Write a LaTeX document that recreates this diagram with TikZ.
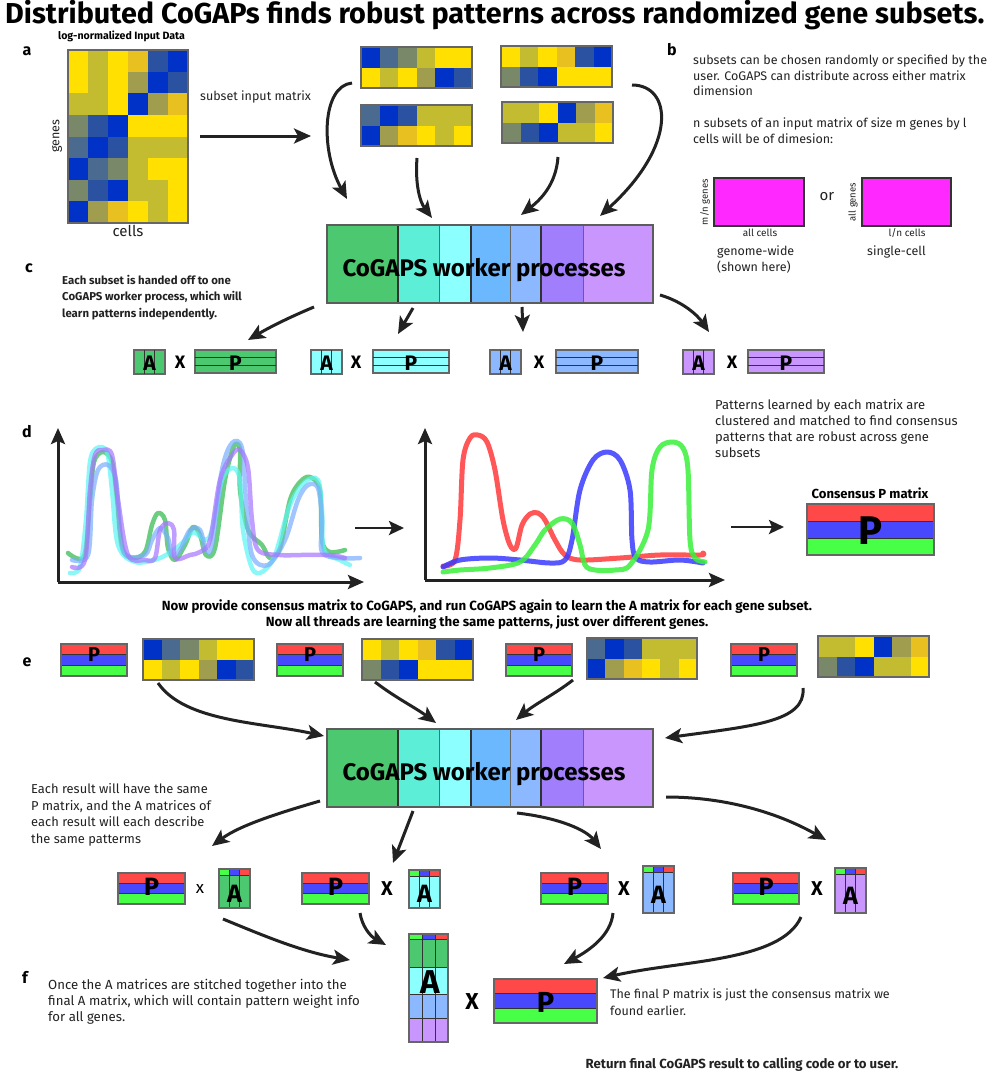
\documentclass[tikz,border=0pt]{standalone}
\usepackage{fontspec}
\setmainfont{Fira Sans}
\usetikzlibrary{arrows.meta}
\definecolor{hY}{HTML}{FFE000}
\definecolor{hO}{HTML}{C4BC30}
\definecolor{hG}{HTML}{E8C020}
\definecolor{hK}{HTML}{A09E4E}
\definecolor{hD}{HTML}{2A52A0}
\definecolor{hB}{HTML}{0032C8}
\definecolor{hS}{HTML}{4A6A90}
\definecolor{hR}{HTML}{788868}
\definecolor{wGreen}{HTML}{4CC870}
\definecolor{wTeal}{HTML}{5CEED6}
\definecolor{wCyan}{HTML}{8CFFFF}
\definecolor{wBlue}{HTML}{6CB8FF}
\definecolor{wLBlue}{HTML}{8CB8FF}
\definecolor{wPurple}{HTML}{A07EFC}
\definecolor{wLav}{HTML}{C896FC}
\definecolor{pRed}{HTML}{FF4848}
\definecolor{pBlue}{HTML}{4848FF}
\definecolor{pGreen}{HTML}{48FF48}
\definecolor{mag}{HTML}{FF28FF}
\definecolor{txt}{HTML}{222222}
\definecolor{frameC}{HTML}{666666}
\definecolor{lineC}{HTML}{333333}
\definecolor{cvGreen}{HTML}{2DB84A}
\definecolor{cvCyan}{HTML}{5CF4F4}
\definecolor{cvBlue}{HTML}{7AAEFF}
\definecolor{cvPurple}{HTML}{A675FF}
\definecolor{cvRed}{HTML}{FF3A3A}
\definecolor{cvB}{HTML}{3A3AFF}
\definecolor{cvG}{HTML}{3AF03A}
\newcommand\fs[2]{\fontsize{#1}{#2}\selectfont}
\tikzset{
  arr/.style={draw=txt, line width=3pt, -{Stealth[length=17pt,width=15pt,inset=4pt]}},
  thinarr/.style={draw=txt, line width=2.6pt, -{Stealth[length=15pt,width=14pt,inset=3pt]}},
  axis/.style={draw=txt, line width=3pt, -{Stealth[length=16pt,width=14pt,inset=3pt]}},
  frame/.style={draw=frameC, line width=1.2pt, inner sep=0pt, outer sep=0pt},
  innerl/.style={draw=lineC, line width=1pt},
  plbl/.style={font=\bfseries\fs{16}{18}, inner sep=0pt, text=black},
  body/.style={text=txt, align=left, inner sep=0pt, anchor=north west},
  curve/.style={line width=4.5pt, line cap=round, line join=round, opacity=0.7},
  lcurve/.style={line width=5pt, line cap=round, line join=round, opacity=0.85},
  bigl/.style={inner sep=0pt, text=black},
}
% heatmap: name, x0, y0, x1, y1, ncols, nrows, rows
\newcommand\hmap[8]{%
  \pgfmathsetmacro\hmcw{(#4-#2)/#6}%
  \pgfmathsetmacro\hmch{(#5-#3)/#7}%
  \foreach \hrow [count=\j from 0] in {#8} {%
    \foreach \cc [count=\i from 0] in \hrow {%
      \fill[\cc] ({#2+\i*\hmcw},{#3+\j*\hmch}) rectangle ({#2+(\i+1)*\hmcw},{#3+(\j+1)*\hmch});
    }%
  }%
  \node[frame, anchor=north west, minimum width={(#4-#2)*1pt}, minimum height={(#5-#3)*1pt}] (#1) at (#2,#3) {};
}
% worker box: name, y0
\newcommand\worker[2]{%
  \fill[wGreen] (327,#2) rectangle (398,{#2+78});
  \fill[wTeal] (398,#2) rectangle (439,{#2+78});
  \fill[wCyan] (439,#2) rectangle (471,{#2+78});
  \fill[wBlue] (471,#2) rectangle (510,{#2+78});
  \fill[wLBlue] (510,#2) rectangle (541,{#2+78});
  \fill[wPurple] (541,#2) rectangle (583,{#2+78});
  \fill[wLav] (583,#2) rectangle (653,{#2+78});
  \draw[draw=frameC, line width=1pt] (439,#2) -- (439,{#2+78}) (510,#2) -- (510,{#2+78}) (583,#2) -- (583,{#2+78});
  \draw[draw=lineC, line width=1.6pt] (398,#2) -- (398,{#2+78}) (471,#2) -- (471,{#2+78}) (541,#2) -- (541,{#2+78});
  \node[frame, draw=lineC!80, line width=1.6pt, anchor=north west, minimum width=326pt, minimum height=78pt] (#1) at (327,#2) {};
  \node[bigl, font=\bfseries\fs{24}{28}] (#1-t) at (484,{#2+45}) {CoGAPS worker processes};
}
% A x P group: name, Ax0, Xcx, Px0, Px1, color
\newcommand\axp[6]{%
  \node[frame, fill=#6, anchor=north west, minimum width=31pt, minimum height=24pt] (#1-a) at (#2,350) {};
  \draw[innerl] ({#2+10.3},350) -- ({#2+10.3},374) ({#2+20.7},350) -- ({#2+20.7},374);
  \node[bigl, font=\bfseries\fs{21}{21}] (#1-al) at ({#2+15.5},363) {A};
  \node[bigl, font=\bfseries\fs{18}{18}] (#1-x) at (#3,362) {X};
  \node[frame, fill=#6, anchor=north west, minimum width={(#5-#4)*1pt}, minimum height=23pt] (#1-p) at (#4,350) {};
  \draw[innerl] (#4,357.7) -- (#5,357.7) (#4,365.3) -- (#5,365.3);
  \node[bigl, font=\bfseries\fs{21}{21}] (#1-pl) at ({(#4+#5)/2},363) {P};
}
% striped P: name, x0, y0, x1, y1, font size, letter cy
\newcommand\stripeP[7]{%
  \pgfmathsetmacro\spH{(#5-#3)/3}%
  \pgfmathsetmacro\spW{#4-#2}%
  \pgfmathsetmacro\spHt{#5-#3}%
  \fill[pRed] (#2,#3) rectangle (#4,{#3+\spH});
  \fill[pBlue] (#2,{#3+\spH}) rectangle (#4,{#3+2*\spH});
  \fill[pGreen] (#2,{#3+2*\spH}) rectangle (#4,#5);
  \draw[innerl] (#2,{#3+\spH}) -- (#4,{#3+\spH}) (#2,{#3+2*\spH}) -- (#4,{#3+2*\spH});
  \node[frame, anchor=north west, minimum width=\spW pt, minimum height=\spHt pt] (#1) at (#2,#3) {};
  \node[bigl, font=\bfseries\fs{#6}{#6}] (#1-l) at ({(#2+#4)/2},#7) {P};
}
% result A: name, x0, y0, y1, color
\newcommand\resA[5]{%
  \fill[#5] (#2,#3) rectangle ({#2+31},#4);
  \fill[pGreen] (#2,#3) rectangle ({#2+10.3},{#3+6});
  \fill[pBlue] ({#2+10.3},#3) rectangle ({#2+20.7},{#3+6});
  \fill[pRed] ({#2+20.7},#3) rectangle ({#2+31},{#3+6});
  \draw[innerl] (#2,{#3+6}) -- ({#2+31},{#3+6}) ({#2+10.3},#3) -- ({#2+10.3},#4) ({#2+20.7},#3) -- ({#2+20.7},#4);
  \node[frame, anchor=north west, minimum width=31pt, minimum height={(#4-#3)*1pt}] (#1) at (#2,#3) {};
  \node[bigl, font=\bfseries\fs{25}{25}] (#1-l) at ({#2+15.5},{(#3+#4)/2+5}) {A};
}
\begin{document}
\begin{tikzpicture}[x=1pt,y=-1pt]
\useasboundingbox (0,0) rectangle (1000,1079);
\fill[white] (0,0) rectangle (1000,1079);

% ---------- title
\node[bigl, anchor=west, font=\bfseries\fs{28.8}{32}] (title) at (5,15) {Distributed CoGAPs finds robust patterns across randomized gene subsets.};

% ---------- (a)
\node[plbl] (la) at (27,51) {a};
\node[bigl, anchor=west, font=\bfseries\fs{10.6}{12}] (lognorm) at (58,36) {log-normalized Input Data};
\hmap{big}{68}{50}{188}{223}{6}{8}{{hY,hO,hY,hG,hD,hB},{hY,hO,hY,hK,hB,hD},{hO,hO,hY,hB,hK,hG},{hR,hD,hB,hY,hY,hY},{hS,hB,hD,hO,hO,hO},{hB,hS,hR,hO,hY,hY},{hR,hD,hB,hO,hO,hY},{hB,hK,hG,hY,hO,hY}}
\node[bigl, rotate=90, text=txt, font=\fs{12.5}{14}] (genes) at (57,136) {genes};
\node[bigl, text=txt, font=\fs{15}{17}] (cells) at (128,231) {cells};
\node[bigl, anchor=west, text=txt, font=\fs{12.5}{14}] (subtxt) at (200,97) {subset input matrix};
\coordinate (am1) at (200,136);
\coordinate (am2) at (311,136);
\draw[arr] (am1) -- (am2);

\hmap{s1}{361}{47}{472}{88}{6}{2}{{hB,hS,hR,hO,hY,hY},{hY,hO,hY,hK,hB,hD}}
\hmap{s2}{501}{46}{612}{87}{6}{2}{{hY,hO,hY,hG,hD,hB},{hR,hD,hB,hY,hY,hY}}
\hmap{s3}{361}{105}{472}{146}{6}{2}{{hS,hB,hD,hO,hO,hO},{hB,hK,hG,hY,hO,hY}}
\hmap{s4}{502}{102}{613}{143}{6}{2}{{hO,hO,hY,hB,hK,hG},{hR,hD,hB,hO,hO,hY}}

\worker{w1}{225}

\coordinate (a1s) at (352,83);  \coordinate (a1e) at (347,199);
\coordinate (a2s) at (417,158); \coordinate (a2e) at (432,218);
\coordinate (a3s) at (558,157); \coordinate (a3e) at (521,215);
\coordinate (a4s) at (632,85);  \coordinate (a4e) at (600,216);
\draw[arr] (a1s) .. controls (322,86) and (320,150) .. (a1e);
\draw[arr] (a2s) .. controls (415,185) and (420,202) .. (a2e);
\draw[arr] (a3s) .. controls (556,185) and (540,200) .. (a3e);
\draw[arr] (a4s) .. controls (672,85) and (678,145) .. (a4e);

% ---------- (b)
\node[plbl] (lb) at (672,50) {b};
\node[body, font=\fs{12.5}{15.5}] (btxt1) at (693,55) {subsets can be chosen randomly or specified by the\\user. CoGAPS can distribute across either matrix\\dimension};
\node[body, font=\fs{12.5}{15.5}] (btxt2) at (693,118) {n subsets of an input matrix of size m genes by l\\cells will be of dimesion:};
\node[frame, draw=lineC, fill=mag, anchor=north west, minimum width=90pt, minimum height=48pt] (m1) at (714,178) {};
\node[frame, draw=lineC, fill=mag, anchor=north west, minimum width=89pt, minimum height=48pt] (m2) at (862,178) {};
\node[bigl, rotate=90, text=txt, font=\fs{9.5}{11}] (m1l) at (705,202) {m/n genes};
\node[bigl, rotate=90, text=txt, font=\fs{9.5}{11}] (m2l) at (853,202) {all genes};
\node[bigl, text=txt, font=\fs{10}{12}] (m1b) at (760,233) {all cells};
\node[bigl, text=txt, font=\fs{10}{12}] (m2b) at (907,233) {l/n cells};
\node[bigl, text=txt, font=\fs{15}{17}] (ortxt) at (827,197) {or};
\node[body, font=\fs{12.5}{16}] (gw) at (717,246) {genome-wide\\(shown here)};
\node[body, font=\fs{12.5}{16}] (sc) at (867,246) {single-cell};

% ---------- (c)
\node[plbl] (lc) at (29,268) {c};
\node[body, font=\bfseries\fs{11.4}{16.5}] (ctxt) at (62,275) {Each subset is handed off to one\\CoGAPS worker process, which will\\learn patterns independently.};
\coordinate (c1s) at (314,307); \coordinate (c1e) at (248,340);
\coordinate (c2s) at (413,308); \coordinate (c2e) at (398,334);
\coordinate (c3s) at (522,307); \coordinate (c3e) at (523,332);
\coordinate (c4s) at (660,295); \coordinate (c4e) at (709,332);
\draw[arr] (c1s) .. controls (290,317) and (270,327) .. (c1e);
\draw[arr] (c2s) -- (c2e);
\draw[arr] (c3s) -- (c3e);
\draw[arr] (c4s) .. controls (684,302) and (698,316) .. (c4e);
\axp{g1}{134}{180}{195}{276}{wGreen}
\axp{g2}{311}{356}{373}{449}{wCyan}
\axp{g3}{490}{539}{556}{638}{wLBlue}
\axp{g4}{683}{732}{748}{824}{wLav}

% ---------- (d)
\node[plbl] (ld) at (27,432) {d};
\coordinate (o1) at (58,582); \coordinate (y1) at (58,428); \coordinate (x1) at (364,582);
\draw[curve, cvGreen] plot[smooth, tension=0.55] coordinates {(68,553) (84,556) (90,500) (94,462) (103,452) (112,462) (117,500) (122,548) (132,558) (145,552) (152,525) (158,513) (165,520) (168,548) (175,560) (185,545) (193,527) (200,535) (206,555) (215,548) (225,480) (234,446) (240,450) (240,490) (248,530) (262,545) (270,558) (280,548) (290,500) (300,482) (310,477) (320,490) (322,540) (330,552) (345,550)};
\draw[curve, cvCyan] plot[smooth, tension=0.55] coordinates {(70,573) (80,567) (86,520) (90,462) (97,448) (107,452) (112,490) (118,545) (135,562) (160,558) (180,545) (193,532) (205,540) (212,530) (222,480) (233,468) (240,480) (243,530) (252,568) (262,572) (275,555) (290,505) (305,482) (318,480) (322,510) (324,550) (340,560) (350,565)};
\draw[curve, cvBlue] plot[smooth, tension=0.55] coordinates {(72,560) (88,555) (92,500) (98,470) (108,465) (116,480) (120,530) (126,555) (145,555) (152,540) (160,528) (168,538) (172,555) (180,550) (190,530) (200,530) (206,550) (212,545) (222,470) (232,443) (242,448) (246,500) (252,555) (268,565) (285,540) (298,500) (308,485) (318,488) (322,520) (322,552) (340,558) (360,558)};
\draw[curve, cvPurple] plot[smooth, tension=0.55] coordinates {(72,567) (85,560) (90,490) (95,455) (103,450) (112,455) (118,500) (128,555) (145,560) (155,558) (160,530) (168,523) (174,530) (175,558) (190,555) (200,552) (210,540) (220,480) (232,455) (240,450) (248,468) (252,520) (258,550) (280,555) (300,555) (330,555) (345,558)};
\draw[axis] (o1) -- (y1);
\draw[axis] (o1) -- (x1);

\coordinate (dm1) at (355,528); \coordinate (dm2) at (404,528);
\draw[thinarr] (dm1) -- (dm2);

\coordinate (o2) at (425,580); \coordinate (y2) at (425,428); \coordinate (x2) at (725,580);
\draw[lcurve, cvRed] plot[smooth, tension=0.55] coordinates {(443,566) (455,560) (460,520) (463,460) (470,438) (478,435) (487,442) (495,470) (503,520) (510,545) (516,548) (522,525) (530,514) (538,513) (545,520) (555,540) (565,555) (580,560) (620,558) (660,555) (700,555) (703,553)};
\draw[lcurve, cvB] plot[smooth, tension=0.55] coordinates {(443,567) (460,560) (490,558) (520,560) (550,563) (565,560) (572,540) (580,490) (593,460) (607,452) (620,460) (630,490) (632,540) (636,558) (650,562) (680,560) (703,563)};
\draw[lcurve, cvG] plot[smooth, tension=0.55] coordinates {(443,572) (460,570) (490,568) (520,562) (535,545) (545,530) (560,519) (572,523) (580,545) (585,565) (595,570) (615,570) (630,565) (648,530) (652,470) (660,447) (673,442) (683,448) (688,470) (690,540) (695,558) (705,562)};
\draw[axis] (o2) -- (y2);
\draw[axis] (o2) -- (x2);

\node[body, font=\fs{13}{16}] (dtxt) at (715,399.5) {Patterns learned by each matrix are\\clustered and matched to find consensus\\patterns that are robust across gene\\subsets};
\coordinate (dr1) at (731,527); \coordinate (dr2) at (784,527);
\draw[thinarr] (dr1) -- (dr2);
\node[bigl, font=\bfseries\fs{13.1}{15}] (constxt) at (870,493) {Consensus P matrix};
\stripeP{cons}{807}{504}{934}{555}{40}{531}

% ---------- middle text
\node[bigl, anchor=north, align=center, font=\bfseries\fs{13.3}{15.5}] (midtxt) at (487,600) {Now provide consensus matrix to CoGAPS, and run CoGAPS again to learn the A matrix for each gene subset.\\Now all threads are learning the same patterns, just over different genes.};

% ---------- (e)
\node[plbl] (le) at (27,662) {e};
\stripeP{ep1}{61}{644}{127}{676}{20}{655}
\stripeP{ep2}{277}{644}{343}{676}{20}{655}
\stripeP{ep3}{506}{644}{572}{676}{20}{655}
\stripeP{ep4}{731}{644}{797}{676}{20}{655}
\hmap{e1}{143}{639}{254}{680}{6}{2}{{hB,hS,hR,hO,hY,hY},{hY,hO,hY,hK,hB,hD}}
\hmap{e2}{362}{639}{473}{680}{6}{2}{{hY,hO,hY,hG,hD,hB},{hR,hD,hB,hY,hY,hY}}
\hmap{e3}{587}{638}{697}{679}{6}{2}{{hS,hB,hD,hO,hO,hO},{hB,hK,hG,hY,hO,hY}}
\hmap{e4}{818}{636}{929}{677}{6}{2}{{hO,hO,hY,hB,hK,hG},{hR,hD,hB,hO,hO,hY}}

\worker{w2}{729}

\coordinate (e1s) at (158,683); \coordinate (e1e) at (324,736);
\coordinate (e2s) at (375,682); \coordinate (e2e) at (436,723);
\coordinate (e3s) at (573,680); \coordinate (e3e) at (516,720);
\coordinate (e4s) at (803,688); \coordinate (e4e) at (665,738);
\draw[arr] (e1s) .. controls (185,722) and (260,722) .. (e1e);
\draw[arr] (e2s) .. controls (396,698) and (416,708) .. (e2e);
\draw[arr] (e3s) .. controls (555,694) and (535,704) .. (e3e);
\draw[arr] (e4s) .. controls (806,722) and (752,726) .. (e4e);

\node[body, font=\fs{12.9}{16.5}] (etxt) at (31,783.5) {Each result will have the same\\P matrix, and the A matrices of\\each result will each describe\\the same patterms};

\coordinate (b1s) at (320,801); \coordinate (b1e) at (212,846);
\coordinate (b2s) at (413,811); \coordinate (b2e) at (393,863);
\coordinate (b3s) at (517,813); \coordinate (b3e) at (601,849);
\coordinate (b4s) at (666,797); \coordinate (b4e) at (826,840);
\draw[arr] (b1s) .. controls (282,812) and (240,825) .. (b1e);
\draw[arr] (b2s) -- (b2e);
\draw[arr] (b3s) .. controls (560,818) and (586,830) .. (b3e);
\draw[arr] (b4s) .. controls (730,797) and (782,815) .. (b4e);

% result row
\stripeP{r1p}{118}{873}{185}{904}{25}{887}
\node[bigl, font=\fs{17}{17}] (r1x) at (200,889) {x};
\resA{r1a}{219}{869}{908}{wGreen}
\stripeP{r2p}{302}{873}{369}{904}{25}{887}
\node[bigl, font=\bfseries\fs{20}{20}] (r2x) at (387,889) {X};
\resA{r2a}{409}{870}{908}{wCyan}
\stripeP{r3p}{541}{873}{608}{904}{25}{887}
\node[bigl, font=\bfseries\fs{20}{20}] (r3x) at (624,889) {X};
\resA{r3a}{643}{866}{913}{wLBlue}
\stripeP{r4p}{733}{873}{799}{904}{25}{887}
\node[bigl, font=\bfseries\fs{20}{20}] (r4x) at (817,889) {X};
\resA{r4a}{835}{868}{913}{wLav}

% ---------- (f)
\coordinate (f1s) at (223,919); \coordinate (f1e) at (350,960);
\coordinate (f2s) at (360,913); \coordinate (f2e) at (386,945);
\coordinate (f3s) at (613,913); \coordinate (f3e) at (564,964);
\coordinate (f4s) at (801,917); \coordinate (f4e) at (603,978);
\draw[arr] (f1s) .. controls (262,935) and (302,952) .. (f1e);
\draw[arr] (f2s) .. controls (362,926) and (370,936) .. (f2e);
\draw[arr] (f3s) .. controls (611,935) and (590,950) .. (f3e);
\draw[arr] (f4s) .. controls (781,962) and (682,960) .. (f4e);

\node[plbl] (lf) at (25,977) {f};
\node[body, font=\fs{13.2}{16}] (ftxt) at (48,979.4) {Once the A matrices are stitched together into the\\final A matrix, which will contain pattern weight info\\for all genes.};

% final A
\fill[wGreen] (409,939) rectangle (448,967);
\fill[wCyan] (409,967) rectangle (448,994);
\fill[wLBlue] (409,994) rectangle (448,1018);
\fill[wLav] (409,1018) rectangle (448,1042);
\fill[pGreen] (409,934) rectangle (422,939);
\fill[pBlue] (422,934) rectangle (435,939);
\fill[pRed] (435,934) rectangle (448,939);
\draw[innerl] (409,939) -- (448,939) (409,967) -- (448,967) (409,994) -- (448,994) (409,1018) -- (448,1018) (422,934) -- (422,1042) (435,934) -- (435,1042);
\node[frame, anchor=north west, minimum width=39pt, minimum height=108pt] (fa) at (409,934) {};
\node[bigl, font=\bfseries\fs{33}{33}] (fa-l) at (430,982) {A};
\node[bigl, font=\bfseries\fs{23}{23}] (fx) at (472,1002) {X};
\stripeP{fp}{494}{979}{597}{1023}{29}{1002}
\node[body, font=\fs{12.5}{16.5}] (fptxt) at (610,988.7) {The final P matrix is just the consensus matrix we\\found earlier.};
\node[bigl, text=txt, font=\bfseries\fs{13.2}{15}] (rettxt) at (742,1065) {Return final CoGAPS result to calling code or to user.};
\end{tikzpicture}
\end{document}
